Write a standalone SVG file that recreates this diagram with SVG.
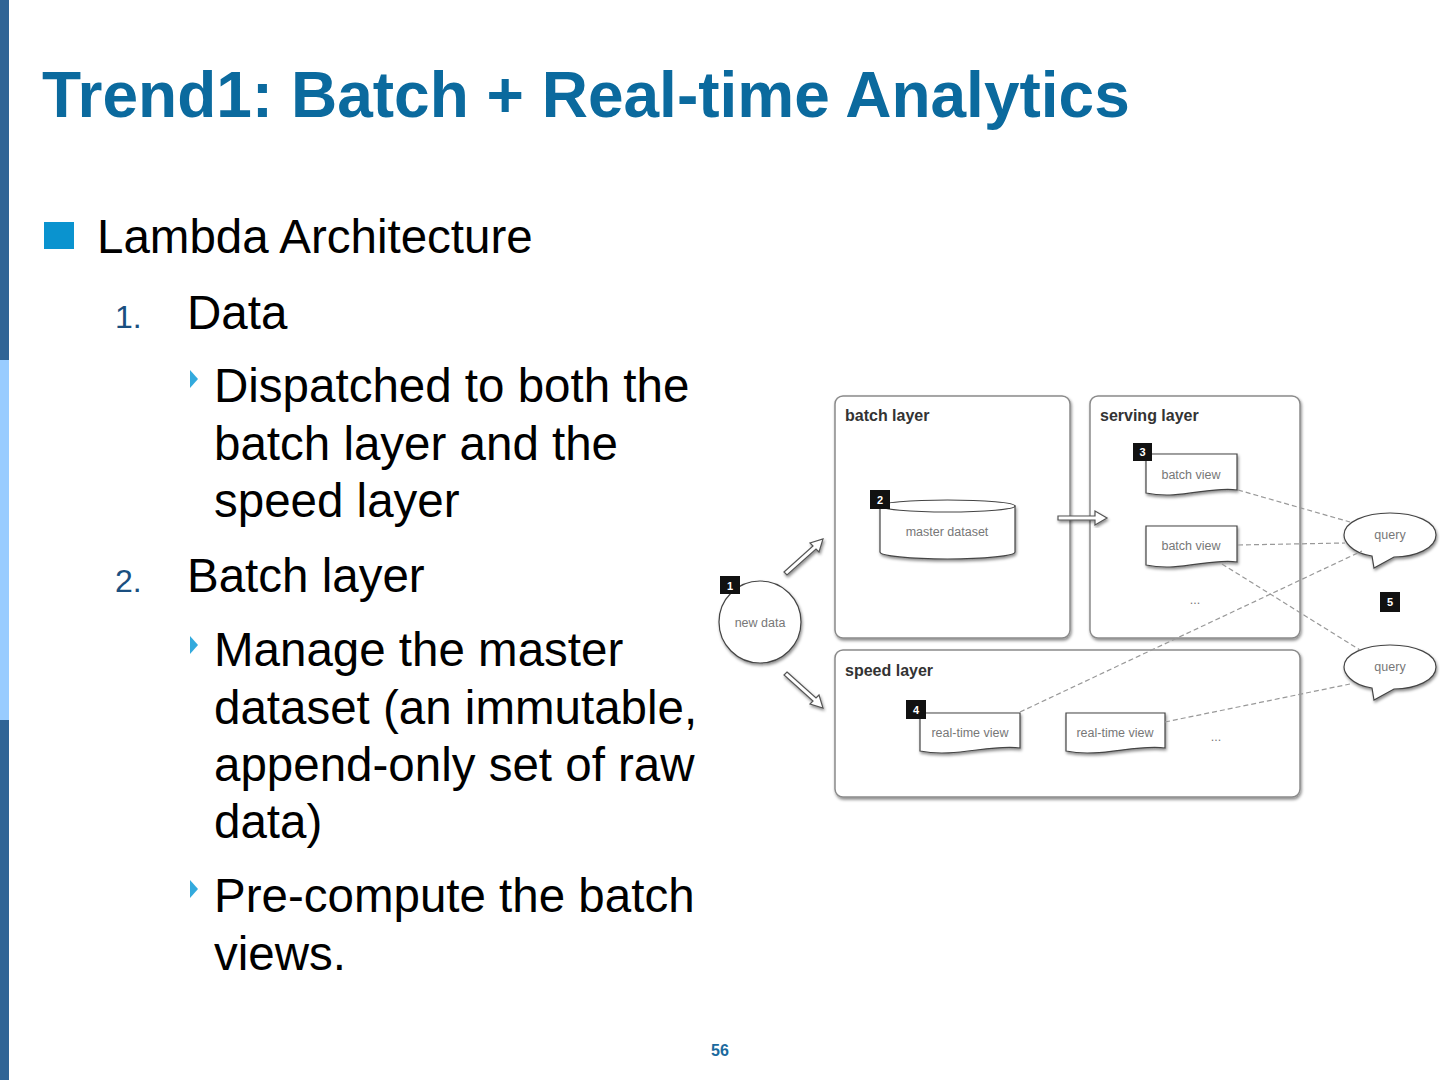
<svg xmlns="http://www.w3.org/2000/svg" width="1440" height="1080" viewBox="0 0 1440 1080">
<defs>
<filter id="sh" x="-10%" y="-10%" width="120%" height="130%">
<feDropShadow dx="1" dy="2" stdDeviation="1.5" flood-color="#000" flood-opacity="0.45"/>
</filter>
<style>
.t{font-family:"Liberation Sans",Arial,sans-serif;}
.body{font-size:47.5px;fill:#000;}
.num{font-size:32px;fill:#1a4f80;}
.box{fill:#fff;stroke:#8a8a8a;stroke-width:1.5;filter:url(#sh);}
.shape{fill:#fff;stroke:#444;stroke-width:1.2;filter:url(#sh);}
.lt{font-size:16px;font-weight:bold;fill:#333;}
.lbl{font-size:12.5px;fill:#777;}
.badge{fill:#111;}
.bn{font-size:11px;font-weight:bold;fill:#fff;text-anchor:middle;}
.dash{fill:none;stroke:#999;stroke-width:1.2;stroke-dasharray:5,3;}
.harrow{fill:#fff;stroke:#555;stroke-width:1.2;filter:url(#sh);}
.tri{fill:#33aadd;}
</style>
</defs>
<rect width="1440" height="1080" fill="#fff"/>
<rect x="0" y="0" width="9" height="360" fill="#2f6496"/>
<rect x="0" y="360" width="9" height="360" fill="#99ccff"/>
<rect x="0" y="720" width="9" height="360" fill="#2f6496"/>

<text class="t" x="42" y="117" font-size="64" font-weight="bold" fill="#0b6a9e">Trend1: Batch + Real-time Analytics</text>

<rect x="44" y="222" width="30" height="27" fill="#0a93cf"/>
<text class="t body" x="97" y="253">Lambda Architecture</text>
<text class="t num" x="115" y="328">1.</text>
<text class="t body" x="187" y="329">Data</text>
<path class="tri" d="M190,370 L198,379 L190,388 Z"/>
<text class="t body" x="214" y="402">Dispatched to both the</text>
<text class="t body" x="214" y="460">batch layer and the</text>
<text class="t body" x="214" y="517">speed layer</text>
<text class="t num" x="115" y="592">2.</text>
<text class="t body" x="187" y="592">Batch layer</text>
<path class="tri" d="M190,636 L198,645 L190,654 Z"/>
<text class="t body" x="214" y="666">Manage the master</text>
<text class="t body" x="214" y="724">dataset (an immutable,</text>
<text class="t body" x="214" y="781">append-only set of raw</text>
<text class="t body" x="214" y="838">data)</text>
<path class="tri" d="M190,880 L198,889 L190,898 Z"/>
<text class="t body" x="214" y="912">Pre-compute the batch</text>
<text class="t body" x="214" y="970">views.</text>

<text class="t" x="720" y="1056" font-size="16" font-weight="bold" fill="#1a6a9e" text-anchor="middle">56</text>

<g id="batch-layer">
<rect class="box" x="835" y="396" width="235" height="242" rx="8"/>
<text class="t lt" x="845" y="421">batch layer</text>
</g>
<g id="serving-layer">
<rect class="box" x="1090" y="396" width="210" height="242" rx="8"/>
<text class="t lt" x="1100" y="421">serving layer</text>
<text class="t lbl" x="1195" y="604" text-anchor="middle">...</text>
</g>
<g id="speed-layer">
<rect class="box" x="835" y="650" width="465" height="147" rx="8"/>
<text class="t lt" x="845" y="676">speed layer</text>
<text class="t lbl" x="1216" y="741" text-anchor="middle">...</text>
</g>

<g id="new-data">
<circle class="shape" cx="760" cy="622" r="41"/>
<text class="t lbl" x="760" y="627" text-anchor="middle">new data</text>
<rect class="badge" x="720" y="576" width="20" height="18"/>
<text class="t bn" x="730" y="590">1</text>
</g>

<g id="master-dataset">
<path class="shape" d="M880,506 L880,552 A67.5,7 0 0 0 1015,552 L1015,506 Z"/>
<ellipse cx="947.5" cy="506" rx="67.5" ry="6" fill="#fff" stroke="#444" stroke-width="1.2"/>
<text class="t lbl" x="947" y="536" text-anchor="middle">master dataset</text>
<rect class="badge" x="870" y="490" width="20" height="19"/>
<text class="t bn" x="880" y="504">2</text>
</g>

<g id="batch-view-1">
<path class="shape" d="M1146,454 L1237,454 L1237,490 C1210,486 1180,500 1146,493 Z"/>
<text class="t lbl" x="1191" y="479" text-anchor="middle">batch view</text>
<rect class="badge" x="1133" y="443" width="19" height="18"/>
<text class="t bn" x="1142.5" y="456">3</text>
</g>
<g id="batch-view-2">
<path class="shape" d="M1146,526 L1237,526 L1237,562 C1210,558 1180,572 1146,565 Z"/>
<text class="t lbl" x="1191" y="550" text-anchor="middle">batch view</text>
</g>

<g id="realtime-view-1">
<path class="shape" d="M920,713 L1020,713 L1020,748 C990,744 955,758 920,751 Z"/>
<text class="t lbl" x="970" y="737" text-anchor="middle">real-time view</text>
<rect class="badge" x="906" y="700" width="20" height="19"/>
<text class="t bn" x="916" y="714">4</text>
</g>
<g id="realtime-view-2">
<path class="shape" d="M1066,713 L1165,713 L1165,748 C1135,744 1100,758 1066,751 Z"/>
<text class="t lbl" x="1115" y="737" text-anchor="middle">real-time view</text>
</g>

<g id="query-1">
<path class="shape" d="M1372,556 C1350,553 1344,540 1344,535 C1344,522 1365,513 1390,513 C1416,513 1436,522 1436,535 C1436,548 1416,557 1394,557 L1374,568 Z"/>
<text class="t lbl" x="1390" y="539" text-anchor="middle">query</text>
</g>
<g id="query-2">
<path class="shape" d="M1372,688 C1350,685 1344,672 1344,667 C1344,654 1365,645 1390,645 C1416,645 1436,654 1436,667 C1436,680 1416,689 1394,689 L1374,700 Z"/>
<text class="t lbl" x="1390" y="671" text-anchor="middle">query</text>
</g>
<g id="badge-5">
<rect class="badge" x="1380" y="592" width="20" height="20"/>
<text class="t bn" x="1390" y="606">5</text>
</g>

<g id="connectors">
<path class="harrow" d="M784,572 L813,546 L810,543 L823,539 L819,552 L816,549 L787,575 Z"/>
<path class="harrow" d="M787,672 L816,698 L819,695 L823,708 L810,704 L813,701 L784,675 Z"/>
<path class="harrow" d="M1058,516 L1095,516 L1095,511 L1107,518 L1095,525 L1095,520 L1058,520 Z"/>
<line class="dash" x1="1238" y1="490" x2="1350" y2="522"/>
<line class="dash" x1="1238" y1="545" x2="1345" y2="543"/>
<line class="dash" x1="1222" y1="564" x2="1360" y2="650"/>
<line class="dash" x1="1020" y1="712" x2="1362" y2="551"/>
<line class="dash" x1="1165" y1="722" x2="1350" y2="684"/>
</g>
</svg>
